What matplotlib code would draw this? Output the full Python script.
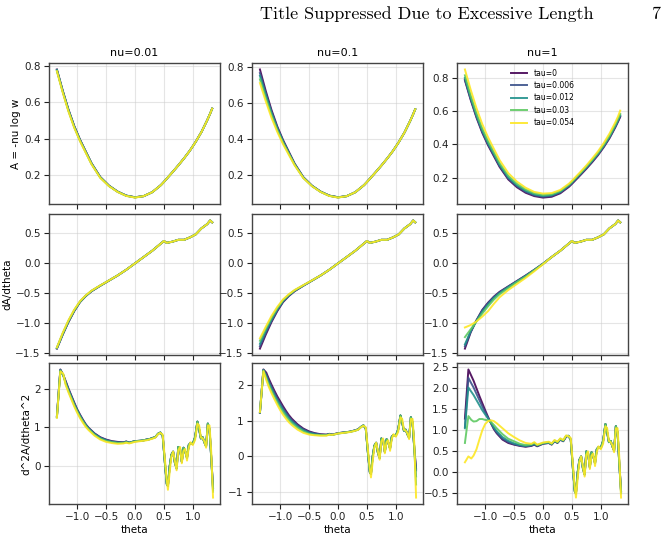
import matplotlib
matplotlib.use("Agg")
import matplotlib.pyplot as plt

# ---- data ----
nus = ["nu=0.01", "nu=0.1", "nu=1"]
taus = ["tau=0", "tau=0.006", "tau=0.012", "tau=0.03", "tau=0.054"]
colors = ["#440154", "#3b528b", "#21918c", "#5ec962", "#fde725"]

# grid for A and dA/dtheta
theta_left = [-1.35, -1.25, -1.15, -1.05, -0.95, -0.85, -0.75, -0.6, -0.45, -0.3, -0.15, 0.0]
theta_right = [0.15, 0.3, 0.45, 0.5, 0.55, 0.65, 0.75, 0.85, 0.95, 1.05, 1.15, 1.25, 1.3, 1.335]

# A = -nu log w
A_right = [0.085, 0.107, 0.146, 0.163, 0.181, 0.217, 0.254, 0.293, 0.335, 0.383, 0.437, 0.502, 0.538, 0.565]
A_left_nu001 = [
    [0.78, 0.665, 0.56, 0.47, 0.395, 0.33, 0.265, 0.19, 0.143, 0.11, 0.088, 0.079],
    [0.778, 0.663, 0.558, 0.468, 0.393, 0.328, 0.264, 0.189, 0.142, 0.11, 0.088, 0.079],
    [0.776, 0.661, 0.556, 0.466, 0.391, 0.327, 0.263, 0.188, 0.142, 0.109, 0.087, 0.078],
    [0.773, 0.658, 0.553, 0.463, 0.389, 0.325, 0.261, 0.187, 0.141, 0.109, 0.087, 0.078],
    [0.77, 0.654, 0.549, 0.46, 0.386, 0.322, 0.259, 0.185, 0.14, 0.108, 0.086, 0.077],
]
A_left_nu01 = [
    [0.785, 0.667, 0.561, 0.47, 0.395, 0.33, 0.265, 0.19, 0.143, 0.11, 0.088, 0.079],
    [0.765, 0.655, 0.552, 0.464, 0.39, 0.326, 0.263, 0.189, 0.142, 0.11, 0.088, 0.079],
    [0.75, 0.644, 0.544, 0.458, 0.386, 0.323, 0.261, 0.188, 0.142, 0.109, 0.087, 0.078],
    [0.73, 0.628, 0.532, 0.449, 0.379, 0.318, 0.258, 0.186, 0.141, 0.109, 0.087, 0.078],
    [0.71, 0.61, 0.518, 0.44, 0.372, 0.313, 0.255, 0.185, 0.14, 0.108, 0.086, 0.077],
]
A_nu1 = [
    [0.785, 0.667, 0.561, 0.47, 0.395, 0.33, 0.265, 0.19, 0.143, 0.11, 0.09, 0.081,
     0.086, 0.107, 0.146, 0.163, 0.181, 0.217, 0.254, 0.293, 0.335, 0.383, 0.437, 0.502, 0.538, 0.565],
    [0.79, 0.673, 0.567, 0.476, 0.401, 0.336, 0.271, 0.196, 0.149, 0.116, 0.095, 0.086,
     0.091, 0.112, 0.151, 0.168, 0.186, 0.222, 0.259, 0.298, 0.34, 0.388, 0.442, 0.507, 0.543, 0.57],
    [0.8, 0.68, 0.574, 0.483, 0.408, 0.343, 0.277, 0.202, 0.155, 0.122, 0.1, 0.091,
     0.096, 0.116, 0.155, 0.172, 0.19, 0.226, 0.263, 0.302, 0.344, 0.392, 0.446, 0.512, 0.548, 0.575],
    [0.815, 0.695, 0.588, 0.496, 0.42, 0.354, 0.288, 0.212, 0.164, 0.13, 0.107, 0.097,
     0.101, 0.121, 0.159, 0.176, 0.194, 0.23, 0.267, 0.307, 0.349, 0.398, 0.453, 0.519, 0.556, 0.583],
    [0.85, 0.728, 0.618, 0.522, 0.443, 0.374, 0.306, 0.228, 0.177, 0.14, 0.115, 0.105,
     0.108, 0.127, 0.165, 0.182, 0.2, 0.236, 0.274, 0.315, 0.358, 0.408, 0.465, 0.532, 0.57, 0.603],
]

# dA/dtheta
dA_right = [0.095, 0.20, 0.32, 0.36, 0.33, 0.35, 0.38, 0.38, 0.42, 0.47, 0.57, 0.64, 0.70, 0.67]
dA_left_nu001 = [
    [-1.42, -1.19, -0.98, -0.80, -0.65, -0.55, -0.47, -0.38, -0.295, -0.21, -0.115, -0.01],
    [-1.415, -1.185, -0.975, -0.795, -0.648, -0.548, -0.468, -0.379, -0.294, -0.21, -0.115, -0.01],
    [-1.41, -1.18, -0.97, -0.79, -0.645, -0.546, -0.466, -0.378, -0.294, -0.21, -0.115, -0.01],
    [-1.405, -1.17, -0.96, -0.783, -0.64, -0.542, -0.463, -0.376, -0.293, -0.209, -0.115, -0.01],
    [-1.40, -1.16, -0.95, -0.775, -0.635, -0.538, -0.46, -0.374, -0.292, -0.209, -0.115, -0.01],
]
dA_left_nu01 = [
    [-1.42, -1.19, -0.98, -0.80, -0.65, -0.55, -0.47, -0.38, -0.295, -0.21, -0.115, -0.01],
    [-1.38, -1.16, -0.96, -0.785, -0.64, -0.543, -0.465, -0.378, -0.294, -0.21, -0.115, -0.01],
    [-1.34, -1.13, -0.94, -0.77, -0.63, -0.537, -0.46, -0.376, -0.293, -0.21, -0.115, -0.01],
    [-1.29, -1.09, -0.91, -0.75, -0.617, -0.528, -0.455, -0.373, -0.292, -0.209, -0.115, -0.01],
    [-1.25, -1.06, -0.88, -0.73, -0.605, -0.52, -0.45, -0.37, -0.29, -0.209, -0.115, -0.01],
]
dA_left_nu1 = [
    [-1.42, -1.15, -0.95, -0.78, -0.66, -0.56, -0.48, -0.39, -0.30, -0.21, -0.115, -0.015],
    [-1.38, -1.14, -0.955, -0.79, -0.67, -0.57, -0.49, -0.395, -0.305, -0.215, -0.118, -0.017],
    [-1.35, -1.13, -0.96, -0.81, -0.69, -0.58, -0.50, -0.40, -0.31, -0.22, -0.12, -0.017],
    [-1.23, -1.10, -0.97, -0.84, -0.72, -0.61, -0.52, -0.42, -0.32, -0.23, -0.125, -0.02],
    [-1.07, -1.03, -0.97, -0.89, -0.80, -0.68, -0.57, -0.45, -0.35, -0.25, -0.14, -0.025],
]

# d^2A/dtheta^2
theta_head = [-1.35, -1.29, -1.24, -1.2, -1.15, -1.1, -1.05, -1.0, -0.95, -0.9, -0.85, -0.8, -0.7, -0.6,
              -0.5, -0.4, -0.3, -0.2, -0.15, -0.1, 0.0, 0.1, 0.15, 0.2, 0.25, 0.3, 0.35, 0.4]
theta_tail = [0.44, 0.48, 0.52, 0.55, 0.57, 0.6, 0.63, 0.66, 0.69, 0.72, 0.75, 0.78, 0.81, 0.84, 0.87,
              0.9, 0.93, 0.96, 1.0, 1.04, 1.08, 1.11, 1.14, 1.17, 1.2, 1.23, 1.26, 1.29, 1.32, 1.35]
d2_tail = [0.87, 0.78, 0.05, -0.45, -0.50, 0.0, 0.30, 0.38, 0.10, -0.05, 0.50, 0.45, 0.12, 0.48, 0.38,
           0.22, 0.55, 0.60, 0.58, 0.75, 1.15, 0.95, 0.72, 0.75, 0.62, 0.52, 1.10, 0.95, 0.20]
d2_tail_hi = [0.86, 0.82, 0.15, -0.35, -0.60, -0.15, 0.25, 0.38, 0.15, -0.10, 0.42, 0.50, 0.08, 0.40, 0.45,
              0.15, 0.48, 0.62, 0.55, 0.68, 1.10, 1.05, 0.75, 0.72, 0.65, 0.48, 1.05, 1.05, 0.35]
d2_end_nu001 = [-0.55, -0.55, -0.6, -0.65, -0.8]
d2_end_nu01 = [-0.35, -0.4, -0.57, -0.8, -1.17]
d2_end_nu1 = [-0.44, -0.45, -0.47, -0.5, -0.6]

d2_head_nu001 = [
    [1.29, 2.49, 2.35, 2.2, 2.0, 1.82, 1.64, 1.47, 1.33, 1.2, 1.08, 0.99, 0.85, 0.75, 0.69, 0.65, 0.63, 0.62, 0.64, 0.61, 0.65, 0.66, 0.67, 0.69, 0.70, 0.73, 0.75, 0.84],
    [1.28, 2.48, 2.34, 2.18, 1.98, 1.8, 1.62, 1.45, 1.31, 1.18, 1.07, 0.98, 0.84, 0.74, 0.68, 0.64, 0.62, 0.61, 0.64, 0.61, 0.65, 0.66, 0.67, 0.69, 0.70, 0.73, 0.75, 0.84],
    [1.27, 2.47, 2.33, 2.16, 1.96, 1.78, 1.6, 1.44, 1.3, 1.17, 1.06, 0.97, 0.83, 0.73, 0.67, 0.63, 0.61, 0.61, 0.63, 0.61, 0.65, 0.66, 0.67, 0.69, 0.70, 0.73, 0.75, 0.84],
    [1.26, 2.46, 2.36, 2.13, 1.93, 1.75, 1.57, 1.41, 1.27, 1.15, 1.04, 0.95, 0.81, 0.71, 0.65, 0.62, 0.60, 0.60, 0.62, 0.60, 0.64, 0.66, 0.67, 0.68, 0.70, 0.72, 0.75, 0.84],
    [1.25, 2.44, 2.38, 2.1, 1.9, 1.72, 1.54, 1.38, 1.24, 1.12, 1.01, 0.93, 0.79, 0.69, 0.63, 0.60, 0.58, 0.59, 0.61, 0.59, 0.63, 0.65, 0.66, 0.67, 0.69, 0.71, 0.74, 0.83],
]
d2_head_nu01 = [
    [1.23, 2.45, 2.36, 2.2, 2.02, 1.85, 1.69, 1.55, 1.41, 1.28, 1.16, 1.06, 0.9, 0.78, 0.7, 0.65, 0.62, 0.61, 0.63, 0.61, 0.65, 0.67, 0.68, 0.69, 0.71, 0.73, 0.76, 0.83],
    [1.23, 2.44, 2.3, 2.14, 1.96, 1.79, 1.63, 1.49, 1.35, 1.23, 1.12, 1.02, 0.87, 0.76, 0.68, 0.64, 0.61, 0.6, 0.63, 0.61, 0.65, 0.67, 0.68, 0.69, 0.71, 0.73, 0.76, 0.83],
    [1.24, 2.43, 2.25, 2.08, 1.9, 1.73, 1.57, 1.43, 1.3, 1.18, 1.07, 0.98, 0.84, 0.73, 0.66, 0.62, 0.6, 0.6, 0.62, 0.6, 0.64, 0.67, 0.68, 0.69, 0.71, 0.73, 0.76, 0.83],
    [1.24, 2.42, 2.2, 2.02, 1.84, 1.67, 1.51, 1.37, 1.24, 1.12, 1.02, 0.93, 0.8, 0.7, 0.63, 0.6, 0.59, 0.59, 0.61, 0.6, 0.64, 0.66, 0.67, 0.69, 0.7, 0.72, 0.75, 0.83],
    [1.25, 2.40, 2.15, 1.97, 1.78, 1.61, 1.45, 1.30, 1.17, 1.06, 0.96, 0.88, 0.75, 0.66, 0.61, 0.59, 0.58, 0.58, 0.61, 0.6, 0.64, 0.66, 0.67, 0.68, 0.7, 0.72, 0.75, 0.82],
]
d2_head_nu1 = [
    [1.28, 2.45, 2.3, 2.18, 2.0, 1.82, 1.65, 1.48, 1.32, 1.17, 1.03, 0.93, 0.78, 0.70, 0.66, 0.63, 0.61, 0.63, 0.66, 0.62, 0.68, 0.70, 0.66, 0.74, 0.70, 0.78, 0.74, 0.85],
    [1.08, 2.25, 2.12, 2.02, 1.87, 1.72, 1.57, 1.43, 1.30, 1.18, 1.05, 0.95, 0.80, 0.72, 0.67, 0.64, 0.62, 0.64, 0.67, 0.63, 0.69, 0.70, 0.67, 0.74, 0.71, 0.78, 0.75, 0.85],
    [1.05, 2.02, 1.92, 1.84, 1.72, 1.60, 1.48, 1.38, 1.28, 1.18, 1.07, 0.98, 0.84, 0.75, 0.69, 0.65, 0.63, 0.65, 0.68, 0.64, 0.69, 0.71, 0.67, 0.75, 0.71, 0.79, 0.75, 0.86],
    [0.70, 1.34, 1.25, 1.21, 1.22, 1.27, 1.27, 1.25, 1.24, 1.20, 1.13, 1.05, 0.91, 0.80, 0.74, 0.68, 0.65, 0.67, 0.70, 0.65, 0.70, 0.72, 0.68, 0.76, 0.72, 0.80, 0.76, 0.87],
    [0.24, 0.38, 0.33, 0.40, 0.55, 0.78, 1.00, 1.15, 1.22, 1.24, 1.22, 1.17, 1.05, 0.93, 0.84, 0.76, 0.70, 0.68, 0.72, 0.66, 0.71, 0.73, 0.69, 0.77, 0.73, 0.81, 0.77, 0.88],
]
d2_ticks_nu1 = [-0.5, 0.0, 0.5, 1.0, 1.5, 2.0, 2.5]

theta_ab = theta_left + theta_right
theta_d2 = theta_head + theta_tail

A_sets = [[l + A_right for l in A_left_nu001], [l + A_right for l in A_left_nu01], A_nu1]
dA_sets = [[l + dA_right for l in dA_left_nu001],
           [l + dA_right for l in dA_left_nu01],
           [l + dA_right for l in dA_left_nu1]]
d2_sets = []
for heads, ends in [(d2_head_nu001, d2_end_nu001), (d2_head_nu01, d2_end_nu01), (d2_head_nu1, d2_end_nu1)]:
    rows = []
    for k in range(5):
        tail = d2_tail_hi if k == 4 else d2_tail
        rows.append(heads[k] + tail + [ends[k]])
    d2_sets.append(rows)

ylabels = ["A = -nu log w", "dA/dtheta", "d^2A/dtheta^2"]

# ---- figure ----
fig = plt.figure(figsize=(6.69, 5.38), dpi=100)
fig.text(0.638, 0.974, "Title Suppressed Due to Excessive Length", ha="center", va="center",
         fontname="cmr10", fontsize=13)
fig.text(0.988, 0.974, "7", ha="right", va="center", fontname="cmr10", fontsize=13)

lefts = [0.0732, 0.3767, 0.6831]
bottoms = [0.6208, 0.3401, 0.0632]
w, h = 0.2556, 0.262

axes = [[None] * 3 for _ in range(3)]
for r in range(3):
    for c in range(3):
        ax = fig.add_axes([lefts[c], bottoms[r], w, h])
        axes[r][c] = ax
        if r == 0:
            data, x = A_sets[c], theta_ab
        elif r == 1:
            data, x = dA_sets[c], theta_ab
        else:
            data, x = d2_sets[c], theta_d2
        for k in range(5):
            ax.plot(x, data[k], color=colors[k], lw=1.4, alpha=0.9, label=taus[k])
        ax.grid(True, color="#cccccc", alpha=0.5, lw=0.8)
        ax.set_xlim(-1.487, 1.47)
        ax.set_xticks([-1.0, -0.5, 0.0, 0.5, 1.0])
        ax.tick_params(labelsize=7.5, colors="#222222", length=3.5, width=0.8, pad=2.5)
        for s in ax.spines.values():
            s.set_color("#444444")
            s.set_linewidth(1.0)
        if r < 2:
            ax.tick_params(labelbottom=False)
        else:
            ax.set_xlabel("theta", fontsize=7.5, labelpad=2)
        if r == 0:
            ax.set_title(nus[c], fontsize=8, pad=5)
        if c == 0:
            ax.set_ylabel(ylabels[r], fontsize=7.5, labelpad=2)

axes[2][2].set_yticks(d2_ticks_nu1)
axes[0][2].legend(loc="upper center", frameon=False, fontsize=5.5, handlelength=2.2,
                  labelspacing=0.45, bbox_to_anchor=(0.5, 1.01))

fig.savefig("out.png", dpi=100)
